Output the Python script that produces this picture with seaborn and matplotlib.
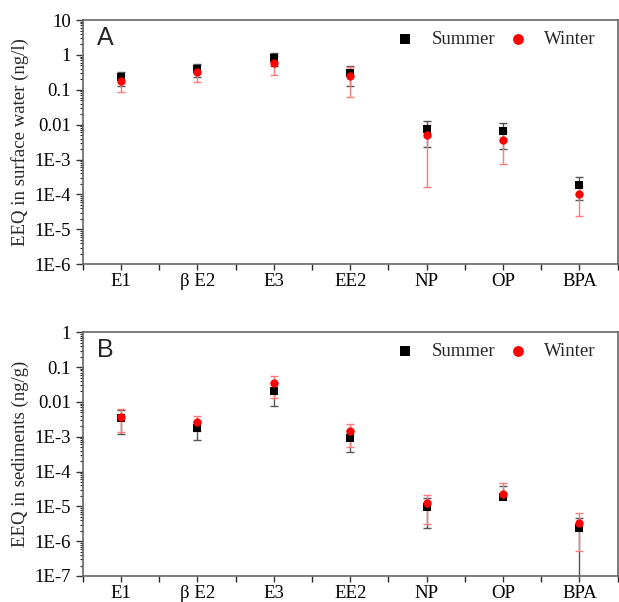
import numpy as np
import pandas as pd
import matplotlib
matplotlib.use("Agg")
import matplotlib.pyplot as plt
import seaborn as sns
from matplotlib.ticker import FuncFormatter, MultipleLocator, FixedLocator, LogLocator

# datos
compounds = ["E1", "β E2", "E3", "EE2", "NP", "OP", "BPA"]

# panel A: agua superficial (ng/l)
water_summer = [0.23, 0.40, 0.80, 0.306, 0.0075, 0.0065, 1.93e-4]
water_summer_sd = [0.104, 0.165, 0.31, 0.18, 0.0052, 0.0045, 1.24e-4]
water_winter = [0.177, 0.32, 0.60, 0.257, 0.00496, 0.00373, 1.02e-4]
water_winter_sd = [0.089, 0.15, 0.33, 0.195, 0.0048, 0.0030, 7.8e-5]

# panel B: sedimentos (ng/g)
sed_summer = [3.5e-3, 1.74e-3, 0.021, 9.0e-4, 9.75e-6, 1.89e-5, 2.38e-6]
sed_summer_sd = [2.3e-3, 9.4e-4, 0.0134, 5.4e-4, 7.3e-6, 2.0e-5, 2.3e-6]
sed_winter = [3.76e-3, 2.64e-3, 0.0349, 1.43e-3, 1.22e-5, 2.21e-5, 3.38e-6]
sed_winter_sd = [2.4e-3, 1.2e-3, 0.0222, 9.3e-4, 9.0e-6, 2.55e-5, 2.86e-6]


def make_df(summer, summer_sd, winter, winter_sd):
    rows = []
    for i, c in enumerate(compounds):
        rows.append([i, c, "Summer", summer[i], summer_sd[i]])
    for i, c in enumerate(compounds):
        rows.append([i, c, "Winter", winter[i], winter_sd[i]])
    return pd.DataFrame(rows, columns=["pos", "compound", "season", "value", "sd"])


def log_label(v, pos):
    if v >= 0.01:
        return "%g" % v
    return "1E%d" % int(round(np.log10(v)))


sns.set_theme(style="ticks")
plt.rcParams["font.family"] = ["Liberation Serif", "DejaVu Serif"]

fig = plt.figure(figsize=(6.19, 6.02), dpi=100)
ax_a = fig.add_axes([0.1336, 0.561, 0.8643, 0.4057])
ax_b = fig.add_axes([0.1336, 0.0432, 0.8643, 0.4048])

paneles = [
    (ax_a, make_df(water_summer, water_summer_sd, water_winter, water_winter_sd),
     "EEQ in surface water (ng/l)", (1e-6, 10), "A"),
    (ax_b, make_df(sed_summer, sed_summer_sd, sed_winter, sed_winter_sd),
     "EEQ in sediments (ng/g)", (1e-7, 1), "B"),
]

colores = {"Summer": "black", "Winter": "#ff0000"}
colores_err = {"Summer": "#555555", "Winter": "#ff7a7a"}
marcadores = {"Summer": "s", "Winter": "o"}
tamanos = {"Summer": 26, "Winter": 36}

for ax, df, ylabel, ylim, letra in paneles:
    ax.set_yscale("log")
    for season in ["Summer", "Winter"]:
        d = df[df["season"] == season]
        # barra inferior no se dibuja si el valor - sd es negativo
        lower = np.where(d["value"] - d["sd"] > 0, d["sd"], 0)
        ax.errorbar(d["pos"], d["value"], yerr=[lower, d["sd"]], fmt="none",
                    ecolor=colores_err[season], elinewidth=1.0, capsize=3.2,
                    capthick=1.0, zorder=2)
    for season in ["Summer", "Winter"]:
        d = df[df["season"] == season]
        sns.scatterplot(data=d, x="pos", y="value", marker=marcadores[season],
                        color=colores[season], s=tamanos[season], linewidth=0,
                        ax=ax, label=season, zorder=3)

    ax.set_xlim(-0.5, 6.5)
    ax.set_ylim(*ylim)
    ax.xaxis.set_major_locator(FixedLocator(range(len(compounds))))
    ax.set_xticklabels(compounds)
    ax.xaxis.set_minor_locator(MultipleLocator(0.5))
    ax.yaxis.set_major_locator(LogLocator(base=10, numticks=20))
    ax.yaxis.set_minor_locator(LogLocator(base=10, subs=np.arange(2, 10), numticks=20))
    ax.yaxis.set_major_formatter(FuncFormatter(log_label))
    ax.yaxis.set_minor_formatter(FuncFormatter(lambda v, p: ""))
    ax.set_xlabel("")
    ax.set_ylabel(ylabel, fontsize=13.5, labelpad=4)
    ax.tick_params(axis="both", labelsize=13.5, colors="#333333", labelcolor="black")
    ax.tick_params(axis="x", which="both", direction="out", length=4, width=1, pad=2.5)
    ax.tick_params(axis="y", which="major", direction="out", length=5, width=1)
    ax.tick_params(axis="y", which="minor", direction="out", length=2.5, width=0.8)
    for sp in ax.spines.values():
        sp.set_visible(True)
        sp.set_color("#666666")
        sp.set_linewidth(1.2)

    ax.text(0.027, 0.975, letra, transform=ax.transAxes, fontsize=18,
            family="Liberation Sans", va="top", ha="left")

    ax.legend(loc="upper right", bbox_to_anchor=(0.99, 1.025), ncol=2,
              frameon=False, fontsize=13.5, markerscale=1.3,
              handletextpad=0.9, columnspacing=0.7, handlelength=1.0)

fig.savefig("out.png", dpi=100)
